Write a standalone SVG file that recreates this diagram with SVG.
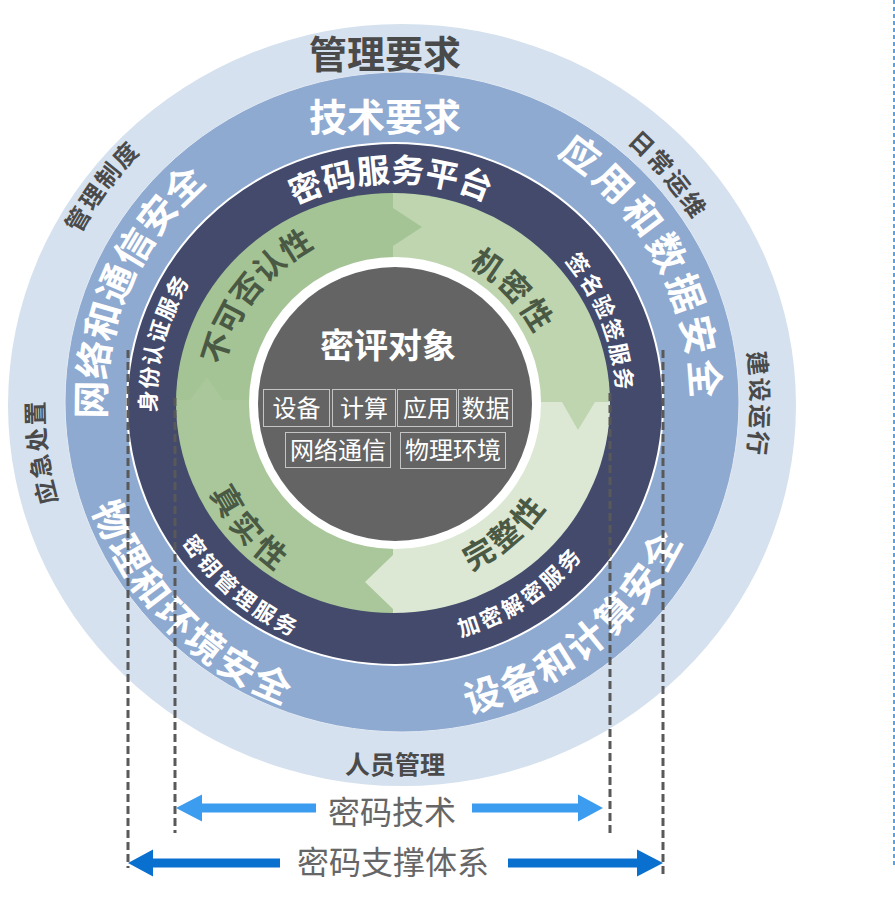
<svg xmlns="http://www.w3.org/2000/svg" width="895" height="903" viewBox="0 0 895 903">
<style>
text{font-family:'Noto Sans CJK SC','Noto Sans',sans-serif;text-anchor:middle}
.b{font-weight:700}
.w{fill:#fff}
.dk{fill:#4a4a4a}
.gn{fill:#4a5944}
.o{font-size:24px;letter-spacing:2px}
.m{font-size:38px}
.d{font-size:22px}
.gr{font-size:31px}
.box{fill:none;stroke:#c4c4c4;stroke-width:1}
.bt{font-size:24px;fill:#fff}
.dash{fill:none;stroke:#595959;stroke-width:3;stroke-dasharray:8 4}
</style>
<defs>
<clipPath id="gclip"><ellipse cx="393" cy="403" rx="217" ry="210"/></clipPath>
<path id="p358" d="M-253.15 -253.15 A358 358 0 0 1 253.15 -253.15"/>
<path id="p350" d="M-247.49 -247.49 A350 350 0 0 1 247.49 -247.49"/>
<path id="p356" d="M-251.73 -251.73 A356 356 0 0 1 251.73 -251.73"/>
<path id="p351" d="M-248.19 -248.19 A351 351 0 0 1 248.19 -248.19"/>
<path id="p290" d="M-205.06 -205.06 A290 290 0 0 1 205.06 -205.06"/>
<path id="p297" d="M-210.01 -210.01 A297 297 0 0 1 210.01 -210.01"/>
<path id="q320" d="M-226.27 226.27 A320 320 0 0 0 226.27 226.27"/>
<path id="q318" d="M-224.86 224.86 A318 318 0 0 0 224.86 224.86"/>
<path id="p222" d="M-156.98 -156.98 A222 222 0 0 1 156.98 -156.98"/>
<path id="p239" d="M-169 -169 A239 239 0 0 1 169 -169"/>
<path id="q254" d="M-179.61 179.61 A254 254 0 0 0 179.61 179.61"/>
<path id="q242" d="M-171.12 171.12 A242 242 0 0 0 171.12 171.12"/>
<path id="p176" d="M-124.45 -124.45 A176 176 0 0 1 124.45 -124.45"/>
<path id="p156" d="M-110.31 -110.31 A156 156 0 0 1 110.31 -110.31"/>
<path id="q183" d="M-129.4 129.4 A183 183 0 0 0 129.4 129.4"/>
<path id="q205" d="M-144.96 144.96 A205 205 0 0 0 144.96 144.96"/>
</defs>
<rect width="895" height="903" fill="#fff"/>

<g id="ring-management">
<ellipse cx="402" cy="405" rx="394" ry="381" fill="#d5e1ee"/>
<text class="b dk" x="385" y="68" font-size="38">管理要求</text>
<text class="b dk o" transform="translate(395 404) rotate(-53.4)"><textPath href="#p358" startOffset="50%">管理制度</textPath></text>
<text class="b dk o" transform="translate(395 404) rotate(50)"><textPath href="#p350" startOffset="50%">日常运维</textPath></text>
<text class="b dk o" transform="translate(395 404) rotate(90)"><textPath href="#p356" startOffset="50%">建设运行</textPath></text>
<text class="b dk o" transform="translate(395 404) rotate(-97.7)"><textPath href="#p351" startOffset="50%">应急处置</textPath></text>
<text class="b dk" x="395" y="774" font-size="25">人员管理</text>
</g>

<g id="ring-technical">
<ellipse cx="402" cy="402" rx="337" ry="330" fill="#8faad1" stroke="#e3eaf4" stroke-width="1"/>
<text class="b w" x="385" y="131" font-size="38">技术要求</text>
<text class="b w m" transform="translate(395 404) rotate(-66.6)"><textPath href="#p290" startOffset="50%">网络和通信安全</textPath></text>
<text class="b w m" letter-spacing="4" transform="translate(395 404) rotate(61.3)"><textPath href="#p297" startOffset="50%">应用和数据安全</textPath></text>
<text class="b w m" letter-spacing="3" transform="translate(395 404) rotate(45.4)"><textPath href="#q320" startOffset="50%">物理和环境安全</textPath></text>
<text class="b w m" letter-spacing="3" transform="translate(395 404) rotate(-39.25)"><textPath href="#q318" startOffset="50%">设备和计算安全</textPath></text>
</g>

<g id="ring-service">
<ellipse cx="395" cy="404" rx="268" ry="261" fill="#434a6b" stroke="#ffffff" stroke-width="2"/>
<text class="b w" font-size="33" transform="translate(395 404) rotate(-1.1)"><textPath href="#p222" startOffset="50%">密码服务平台</textPath></text>
<text class="b w d" letter-spacing="1" transform="translate(395 404) rotate(-75.5)"><textPath href="#p239" startOffset="50%">身份认证服务</textPath></text>
<text class="b w d" letter-spacing="2" transform="translate(395 404) rotate(68.4)"><textPath href="#p222" startOffset="50%">签名验签服务</textPath></text>
<text class="b w d" letter-spacing="3" transform="translate(395 404) rotate(40.15)"><textPath href="#q254" startOffset="50%">密钥管理服务</textPath></text>
<text class="b w d" letter-spacing="3" transform="translate(395 404) rotate(-33.55)"><textPath href="#q242" startOffset="50%">加密解密服务</textPath></text>
</g>

<g id="ring-properties">
<g clip-path="url(#gclip)">
<rect x="0" y="0" width="393" height="400" fill="#a5c495"/>
<rect x="393" y="0" width="300" height="402" fill="#bed5b0"/>
<rect x="393" y="402" width="300" height="300" fill="#dce8d3"/>
<rect x="0" y="400" width="393" height="300" fill="#a9c79a"/>
<polygon points="393,208 422,227 393,246" fill="#a5c495"/>
<polygon points="562,402 578,430 595,402" fill="#bed5b0"/>
<polygon points="393,555 365,582 393,609" fill="#dce8d3"/>
<polygon points="190,400 207,377 223,400" fill="#a9c79a"/>
</g>
<text class="b gn gr" transform="translate(395 404) rotate(-52.25)"><textPath href="#p176" startOffset="50%">不可否认性</textPath></text>
<text class="b gn gr" letter-spacing="2" transform="translate(395 404) rotate(46)"><textPath href="#p156" startOffset="50%">机密性</textPath></text>
<text class="b gn gr" letter-spacing="3" transform="translate(395 404) rotate(-40.4)"><textPath href="#q183" startOffset="50%">完整性</textPath></text>
<text class="b gn gr" letter-spacing="5" transform="translate(395 404) rotate(49.3)"><textPath href="#q205" startOffset="50%">真实性</textPath></text>
</g>

<g id="center">
<circle cx="395" cy="403" r="146" fill="#ffffff"/>
<circle cx="395" cy="404" r="137" fill="#646464"/>
<text class="b w" x="388" y="358" font-size="34">密评对象</text>
<rect class="box" x="263.5" y="389.5" width="66" height="37"/>
<rect class="box" x="332.5" y="389.5" width="63" height="37"/>
<rect class="box" x="397.5" y="389.5" width="59" height="37"/>
<rect class="box" x="458.5" y="389.5" width="54" height="37"/>
<rect class="box" x="285.5" y="432.5" width="105" height="35"/>
<rect class="box" x="400.5" y="432.5" width="105" height="36"/>
<text class="bt" x="296.5" y="417">设备</text>
<text class="bt" x="364" y="417">计算</text>
<text class="bt" x="427" y="417">应用</text>
<text class="bt" x="485.5" y="417">数据</text>
<text class="bt" x="338" y="459">网络通信</text>
<text class="bt" x="453" y="459">物理环境</text>
</g>

<g id="connectors">
<line class="dash" x1="128" y1="350" x2="128" y2="868"/>
<line class="dash" x1="175" y1="398" x2="175" y2="833"/>
<line class="dash" x1="610" y1="393" x2="610" y2="833"/>
<line class="dash" x1="663" y1="350" x2="663" y2="875"/>
<polygon points="316,803.5 202,803.5 202,794.5 176,808 202,821.5 202,812.5 316,812.5" fill="#3b9cf0"/>
<polygon points="472,803.5 578,803.5 578,794.5 603,808 578,821.5 578,812.5 472,812.5" fill="#3b9cf0"/>
<polygon points="280,858.5 153,858.5 153,849.5 128,863 153,876.5 153,867.5 280,867.5" fill="#0a70d0"/>
<polygon points="508,858.5 637,858.5 637,849.5 663,863 637,876.5 637,867.5 508,867.5" fill="#0a70d0"/>
<line x1="894" y1="0" x2="894" y2="867" stroke="#1a87e6" stroke-width="1.5" stroke-dasharray="4 3"/>
</g>

<g id="scope-labels">
<text x="392" y="824" font-size="32" fill="#666666">密码技术</text>
<text x="393" y="874" font-size="32" fill="#666666">密码支撑体系</text>
</g>
</svg>
